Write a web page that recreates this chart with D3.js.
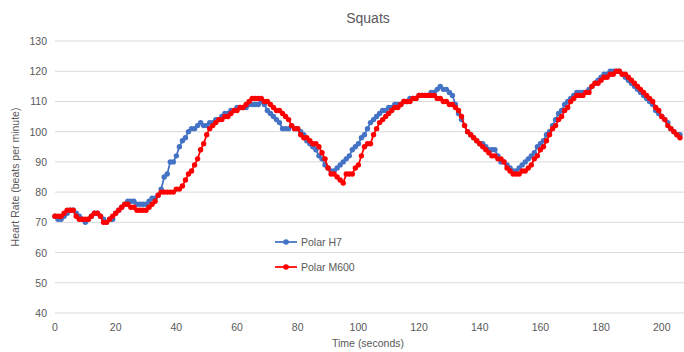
<!DOCTYPE html>
<html>
<head>
<meta charset="utf-8">
<script src="https://cdn.jsdelivr.net/npm/d3@7"></script>
<style>
body { margin: 0; background: #fff; }
text { font-family: "Liberation Sans", Arial, sans-serif; fill: #595959; }
</style>
</head>
<body>
<svg id="chart" width="684" height="352"></svg>
<script>
// heart rate readings, one per second starting at t = 0
var polarH7 = [
	72,71,71,72,73,74,74,73,72,71, 70,71,72,73,73,72,71,70,71,71,
	73,74,75,76,77,77,77,76,76,76, 76,77,78,78,79,81,85,86,90,90,
	92,95,97,98,100,101,101,102,103,102, 102,103,103,104,104,105,106,106,107,107,
	108,108,108,108,109,109,109,109,110,109, 107,106,105,104,103,101,101,101,102,101,
	101,100,99,97,96,95,94,92,91,89, 88,87,87,88,89,90,91,92,94,95,
	96,98,99,101,103,104,105,106,107,107, 108,108,109,109,109,110,110,111,111,111,
	112,112,112,112,113,113,114,115,114,114, 113,112,109,106,104,102,100,99,98,97,
	96,96,95,94,94,94,92,90,90,89, 88,87,87,88,89,90,91,92,93,95,
	96,97,99,100,102,104,106,107,109,110, 111,112,113,113,113,113,114,115,116,117,
	118,119,119,120,120,120,120,119,118,117, 116,115,114,113,112,111,110,109,107,106,
	105,104,103,101,100,99,99
];
var polarM600 = [
	72,72,72,73,74,74,74,72,71,71, 71,71,72,73,73,72,70,70,71,72,
	73,74,75,76,76,75,75,74,74,74, 74,75,76,77,79,80,80,80,80,80,
	81,81,82,84,86,87,89,91,94,96, 99,101,102,103,104,104,105,105,106,107,
	107,108,108,109,110,111,111,111,111,110, 110,109,108,107,107,106,105,104,102,101,
	101,99,98,98,97,96,96,95,93,91, 88,86,86,85,84,83,86,86,86,88,
	89,92,95,96,96,99,101,103,104,105, 106,107,108,108,109,110,110,110,111,111,
	112,112,112,112,112,112,111,111,110,110, 109,109,108,107,105,102,100,99,98,97,
	96,95,94,93,92,92,91,91,90,88, 87,86,86,86,87,87,88,89,91,92,
	94,95,97,99,101,102,104,105,107,108, 110,111,112,112,112,113,113,115,116,116,
	117,118,118,119,119,120,120,119,119,118, 117,116,115,114,113,112,111,110,108,107,
	105,104,102,101,100,99,98
];
var seriesNames = ["Polar H7", "Polar M600"];
var seriesColors = ["#4472C4", "#FF0000"];
var xTicks = [0, 20, 40, 60, 80, 100, 120, 140, 160, 180, 200];
var yTicks = [40, 50, 60, 70, 80, 90, 100, 110, 120, 130];

var svg = d3.select("#chart");

var x = d3.scaleLinear().domain([0, 207]).range([55, 683]);
var y = d3.scaleLinear().domain([40, 130]).range([313, 41]);

// gridlines
svg.append("g")
	.selectAll("line")
	.data(yTicks)
	.enter().append("line")
	.attr("x1", 55).attr("x2", 684)
	.attr("y1", function(d) { return y(d); })
	.attr("y2", function(d) { return y(d); })
	.attr("stroke", "#d9d9d9")
	.attr("stroke-width", 1);

// y tick labels
svg.append("g")
	.selectAll("text")
	.data(yTicks)
	.enter().append("text")
	.attr("x", 47)
	.attr("y", function(d) { return y(d) + 4; })
	.attr("text-anchor", "end")
	.attr("font-size", 10.5)
	.text(function(d) { return d; });

// x tick labels
svg.append("g")
	.selectAll("text")
	.data(xTicks)
	.enter().append("text")
	.attr("x", function(d) { return x(d); })
	.attr("y", 331)
	.attr("text-anchor", "middle")
	.attr("font-size", 10.5)
	.text(function(d) { return d; });

svg.append("text")
	.attr("x", 368).attr("y", 23)
	.attr("text-anchor", "middle")
	.attr("font-size", 14)
	.text("Squats");

svg.append("text")
	.attr("x", 368).attr("y", 347)
	.attr("text-anchor", "middle")
	.attr("font-size", 10.5)
	.text("Time (seconds)");

svg.append("text")
	.attr("transform", "translate(19,177) rotate(-90)")
	.attr("text-anchor", "middle")
	.attr("font-size", 10.5)
	.text("Heart Rate  (beats per minute)");

var line = d3.line()
	.x(function(d, i) { return x(i); })
	.y(function(d) { return y(d); });

[polarH7, polarM600].forEach(function(values, k) {
	var g = svg.append("g");
	g.append("path")
		.datum(values)
		.attr("d", line)
		.attr("fill", "none")
		.attr("stroke", seriesColors[k])
		.attr("stroke-width", 1.75);
	g.selectAll("circle")
		.data(values)
		.enter().append("circle")
		.attr("cx", function(d, i) { return x(i); })
		.attr("cy", function(d) { return y(d); })
		.attr("r", 2.7)
		.attr("fill", seriesColors[k]);
});

// legend
var legend = svg.append("g")
	.selectAll("g")
	.data(seriesNames)
	.enter().append("g")
	.attr("transform", function(d, i) { return "translate(275," + (242 + i * 25) + ")"; });

legend.append("line")
	.attr("x1", 0).attr("x2", 22)
	.attr("stroke", function(d, i) { return seriesColors[i]; })
	.attr("stroke-width", 1.75);
legend.append("circle")
	.attr("cx", 11).attr("r", 2.8)
	.attr("fill", function(d, i) { return seriesColors[i]; });
legend.append("text")
	.attr("x", 26).attr("y", 4)
	.attr("font-size", 10.5)
	.text(function(d) { return d; });
</script>
</body>
</html>
